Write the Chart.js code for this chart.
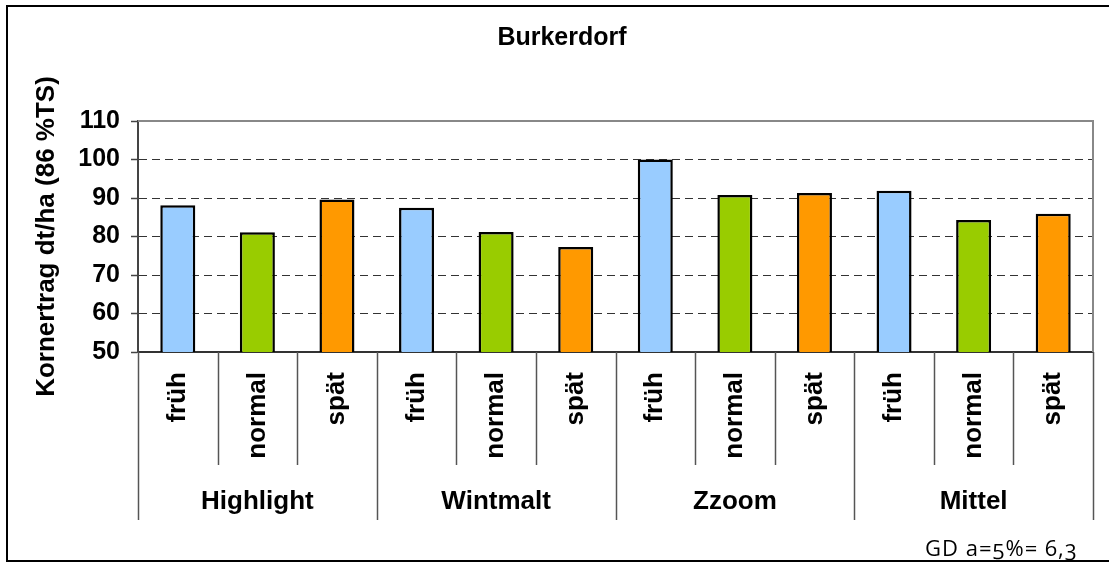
<!DOCTYPE html>
<html>
<head>
<meta charset="utf-8">
<script src="https://cdn.jsdelivr.net/npm/chart.js@4/dist/chart.umd.min.js"></script>
<style>
  body { margin: 0; background: #fff; }
  #wrap { position: relative; width: 1109px; height: 562px; }
  #note { position: absolute; left: 925px; top: 532px; font-family: 'Open Sans', sans-serif; font-size: 22px; letter-spacing: 1px; font-feature-settings: 'onum'; color: #000; white-space: nowrap; }
</style>
</head>
<body>
<div id="wrap">
  <canvas id="chart"></canvas>
  <div id="note">GD a=5%= 6,3</div>
</div>
<script>
const groups = ['Highlight', 'Wintmalt', 'Zzoom', 'Mittel'];
const seasons = ['früh', 'normal', 'spät'];
const seasonColors = ['#99ccff', '#99cc00', '#ff9900'];

// Kornertrag dt/ha per sort: früh, normal, spät
const highlightVals = [88.1, 81.1, 89.6];
const wintmaltVals = [87.5, 81.2, 77.3];
const zzoomVals = [100.0, 90.8, 91.3];
const mittelVals = [91.9, 84.3, 85.9];

const yTicksMin = 50;
const yTicksMax = 110;
const yStep = 10;

const FONT = "'Liberation Sans', Arial, sans-serif";

const labels = [];
const values = [];
const colors = [];
[highlightVals, wintmaltVals, zzoomVals, mittelVals].forEach(vals => {
  vals.forEach((v, i) => {
    labels.push(seasons[i]);
    values.push(v);
    colors.push(seasonColors[i]);
  });
});

// outer frame + plot border
const framePlugin = {
  id: 'frame',
  beforeDraw(chart) {
    const ctx = chart.ctx;
    ctx.save();
    ctx.strokeStyle = '#000';
    ctx.lineWidth = 2;
    ctx.strokeRect(7, 6, 1130, 555);
    ctx.restore();
  },
  beforeDatasetsDraw(chart) {
    const {ctx, chartArea} = chart;
    ctx.save();
    ctx.strokeStyle = '#888';
    ctx.lineWidth = 2;
    ctx.beginPath();
    ctx.moveTo(chartArea.left, chartArea.top);
    ctx.lineTo(chartArea.right, chartArea.top);
    ctx.lineTo(chartArea.right, chartArea.bottom);
    ctx.stroke();
    ctx.restore();
  }
};

// category separators and group names under the axis
const groupPlugin = {
  id: 'groups',
  afterDraw(chart) {
    const ctx = chart.ctx;
    const x = chart.scales.x;
    const top = x.top;
    ctx.save();
    ctx.strokeStyle = '#555';
    ctx.lineWidth = 1.5;
    for (let i = 0; i <= labels.length; i++) {
      const px = Math.round(x.getPixelForValue(i - 0.5)) + 0.5;
      const len = i % seasons.length === 0 ? 168 : 113;
      ctx.beginPath();
      ctx.moveTo(px, top);
      ctx.lineTo(px, top + len);
      ctx.stroke();
    }
    ctx.fillStyle = '#000';
    ctx.font = 'bold 26px ' + FONT;
    ctx.textAlign = 'center';
    ctx.textBaseline = 'middle';
    groups.forEach((g, gi) => {
      const cx = x.getPixelForValue(gi * seasons.length + 1);
      ctx.fillText(g, cx, top + 150);
    });
    ctx.restore();
  }
};

new Chart(document.getElementById('chart'), {
  type: 'bar',
  data: {
    labels: labels,
    datasets: [{
      data: values,
      backgroundColor: colors,
      borderColor: '#000',
      borderWidth: 2.5,
      barPercentage: 0.44,
      categoryPercentage: 1
    }]
  },
  options: {
    responsive: true,
    maintainAspectRatio: false,
    animation: false,
    layout: { padding: { top: 8, left: 31, right: 16, bottom: 0 } },
    plugins: {
      legend: { display: false },
      tooltip: { enabled: false },
      title: {
        display: true,
        text: 'Burkerdorf',
        color: '#000',
        font: { family: FONT, size: 25, weight: 'bold', lineHeight: 1.2 },
        padding: { top: 15, bottom: 68 }
      }
    },
    scales: {
      x: {
        offset: true,
        grid: { display: false, drawTicks: false },
        border: { display: true, color: '#333', width: 2 },
        ticks: {
          autoSkip: false,
          minRotation: 90,
          maxRotation: 90,
          padding: 20,
          color: '#000',
          font: { family: FONT, size: 26, weight: 'bold' }
        },
        afterFit: s => { s.height = 210; }
      },
      y: {
        min: yTicksMin,
        max: yTicksMax,
        ticks: {
          stepSize: yStep,
          padding: 11,
          color: '#000',
          font: { family: FONT, size: 25, weight: 'bold' }
        },
        grid: {
          color: c => (c.tick && (c.tick.value === yTicksMax || c.tick.value === yTicksMin)) ? 'rgba(0,0,0,0)' : '#333',
          lineWidth: 1,
          tickColor: '#444',
          tickLength: 7,
          tickWidth: 1.5,
          tickBorderDash: []
        },
        border: { display: true, color: '#444', width: 2, dash: [8, 5] },
        title: {
          display: true,
          text: 'Kornertrag dt/ha (86 %TS)',
          color: '#000',
          font: { family: FONT, size: 26, weight: 'bold', lineHeight: 1.2 },
          padding: 0
        },
        afterFit: s => { s.width = 107; }
      }
    }
  },
  plugins: [framePlugin, groupPlugin]
});
</script>
</body>
</html>
